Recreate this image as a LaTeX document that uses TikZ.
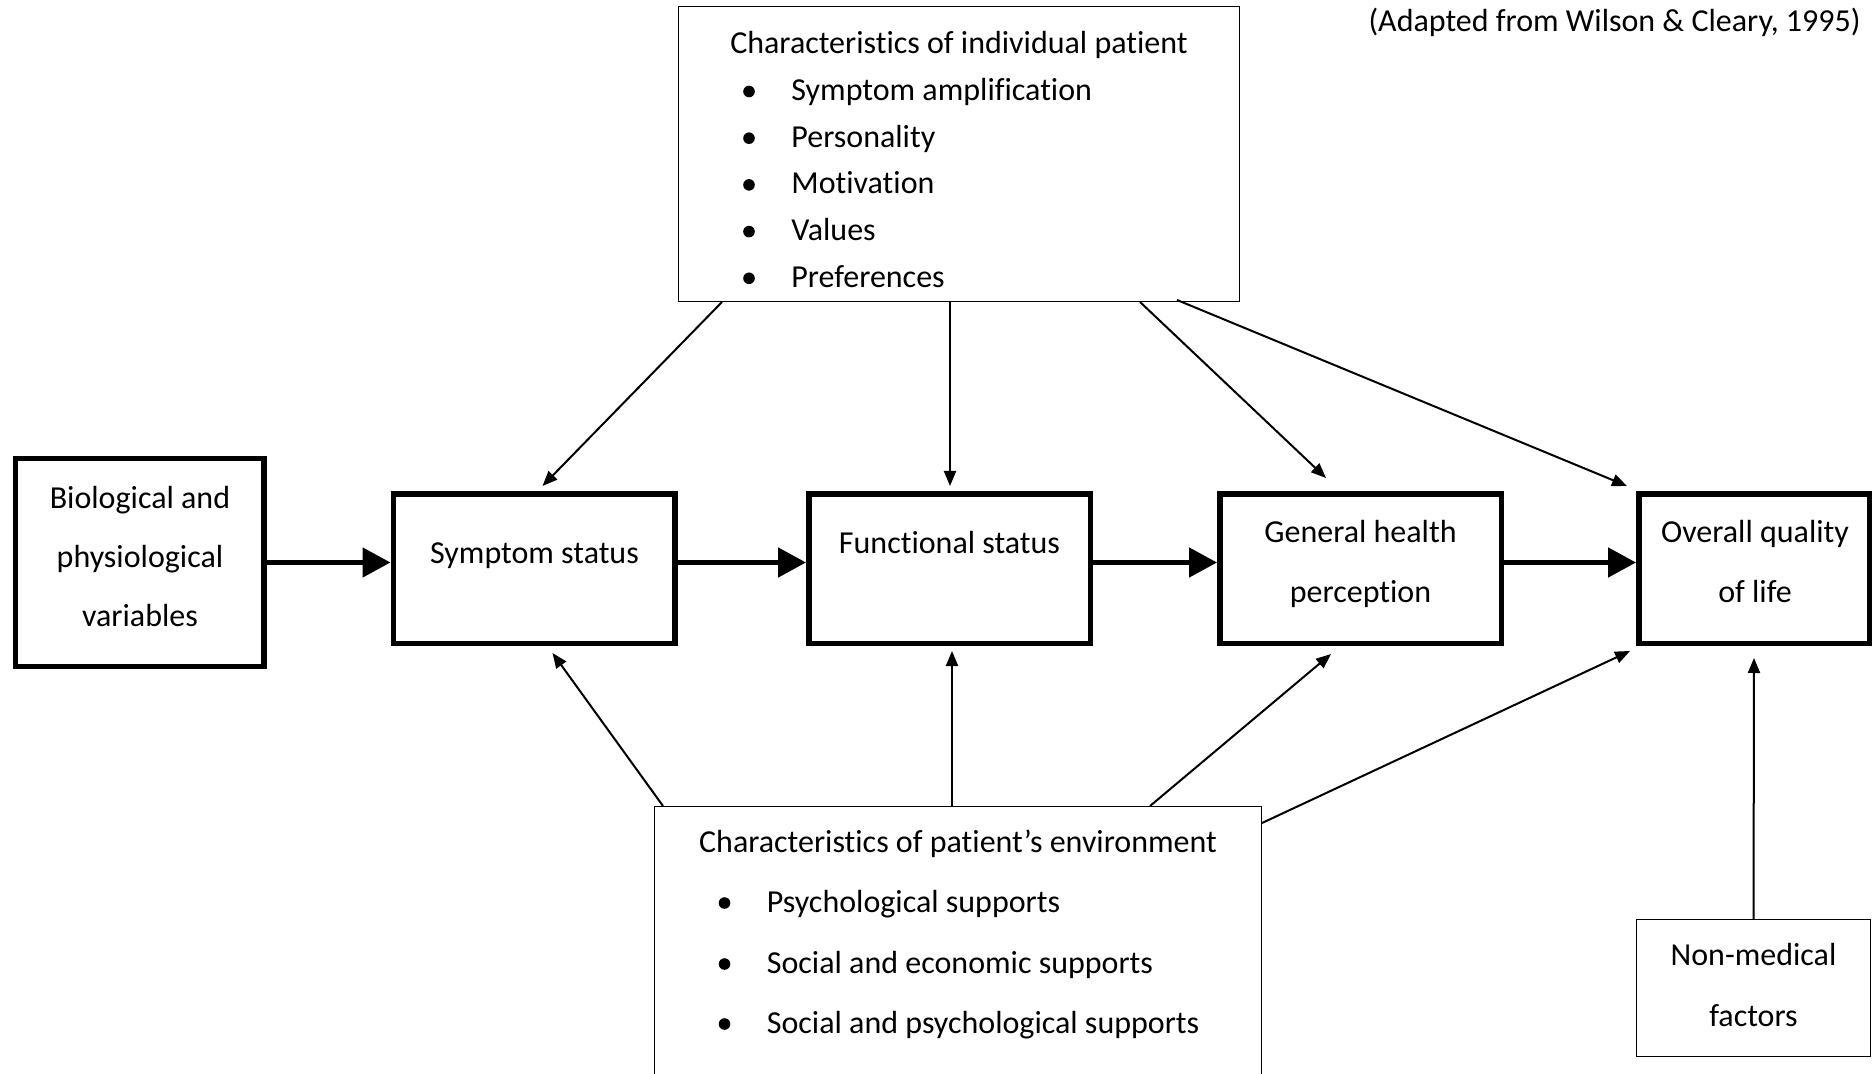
\documentclass[tikz,border=0pt]{standalone}
\usepackage{fontspec}
\setmainfont{Carlito}[Ligatures={NoCommon,NoContextual}]
\usetikzlibrary{arrows.meta,calc}
\begin{document}
\begin{tikzpicture}[x=0.5pt,y=-0.5pt,
  heavy/.style={draw, line width=2.75pt, inner sep=0pt},
  light/.style={draw, line width=0.7pt, inner sep=0pt},
  txt/.style={inner sep=0pt, font=\fontsize{16}{19}\selectfont},
  dot/.style={circle, fill, inner sep=0pt, minimum size=5.8pt},
  flow/.style={line width=2.5pt, -{Triangle[length=14pt,width=14.5pt]}},
  infl/.style={line width=1pt, -{Triangle[length=7.5pt,width=6pt]}}]
\useasboundingbox (0,0) rectangle (1872,1074);
\clip (0,0) rectangle (1872,1074);

% main causal chain
\node[heavy, minimum width=124.25pt, minimum height=103.75pt] (bio) at (139.5,562.5) {};
\node[heavy, minimum width=140.75pt, minimum height=74.75pt] (sym) at (534,568.5) {};
\node[heavy, minimum width=140.75pt, minimum height=74.75pt] (fun) at (949.5,568.5) {};
\node[heavy, minimum width=140.75pt, minimum height=74.75pt] (gen) at (1360.5,568.5) {};
\node[heavy, minimum width=115.25pt, minimum height=74.75pt] (ovr) at (1754,568.5) {};

\node[txt, anchor=base] (bioA) at (140,508.5) {Biological and};
\node[txt, anchor=base] (bioB) at (140,567.5) {physiological};
\node[txt, anchor=base] (bioC) at (140,626) {variables};
\node[txt, anchor=base] (symT) at (534.5,563.5) {Symptom status};
\node[txt, anchor=base] (funT) at (949.5,553.5) {Functional status};
\node[txt, anchor=base] (genA) at (1360.5,542.5) {General health};
\node[txt, anchor=base] (genB) at (1360.5,602) {perception};
\node[txt, anchor=base] (ovrA) at (1755,542.5) {Overall quality};
\node[txt, anchor=base] (ovrB) at (1755,602) {of life};

% modifying factors
\node[light, minimum width=280.3pt, minimum height=147.3pt] (top) at (959,154) {};
\node[txt, anchor=base] (topT) at (959,53.5) {Characteristics of individual patient};
\foreach \t [count=\i] in {Symptom amplification, Personality, Motivation, Values, Preferences} {
  \node[dot] (topd\i) at (749,{91.5+46.7*(\i-1)}) {};
  \node[txt, anchor=base west] (topi\i) at (791,{100.5+46.7*(\i-1)}) {\t};
}

\node[light, minimum width=303.3pt, minimum height=156.3pt] (bot) at (958,963) {};
\node[txt, anchor=base] (botT) at (958,852) {Characteristics of patient’s environment};
\foreach \t/\y [count=\i] in {Psychological supports/912, Social and economic supports/973, Social and psychological supports/1033} {
  \node[dot] (botd\i) at (724.5,\y-9) {};
  \node[txt, anchor=base west] (boti\i) at (766.5,\y) {\t};
}

\node[light, minimum width=116.8pt, minimum height=68.3pt] (nm) at (1753.5,988) {};
\node[txt, anchor=base] (nmA) at (1753.5,965) {Non-medical};
\node[txt, anchor=base] (nmB) at (1753.5,1026) {factors};

\node[txt, anchor=base east] (cite) at (1861,32) {(Adapted from Wilson \& Cleary, 1995)};

% thick arrows along the chain
\draw[flow] (bio.east) -- (bio.east -| sym.west);
\draw[flow] (bio.east -| sym.east) -- (bio.east -| fun.west);
\draw[flow] (bio.east -| fun.east) -- (bio.east -| gen.west);
\draw[flow] (bio.east -| gen.east) -- (bio.east -| ovr.west);

% influences of the individual
\draw[infl] ($(top.south west)+(44,0)$) -- ($(sym.north)+(8.5,-5)$);
\draw[infl] ($(top.south)+(-9,0)$) -- ($(fun.north)+(0.5,-5)$);
\draw[infl] ($(top.south east)+(-100,0)$) -- ($(gen.north)+(-34.5,-13)$);
\draw[infl] ($(top.south east)+(-63,-2)$) -- ($(ovr.north west)+(-9,-5)$);

% influences of the environment
\draw[infl] ($(bot.north west)+(9,0)$) -- ($(sym.south)+(18.5,7)$);
\draw[infl] ($(bot.north)+(-6,0)$) -- ($(fun.south)+(2.5,5)$);
\draw[infl] ($(bot.north)+(192,0)$) -- ($(gen.south)+(-29.5,8)$);
\draw[infl] ($(bot.north east)+(0,17)$) -- ($(ovr.south west)+(-6,5)$);
\draw[infl] (nm.north) -- ($(ovr.south)+(0,12)$);
\end{tikzpicture}
\end{document}
